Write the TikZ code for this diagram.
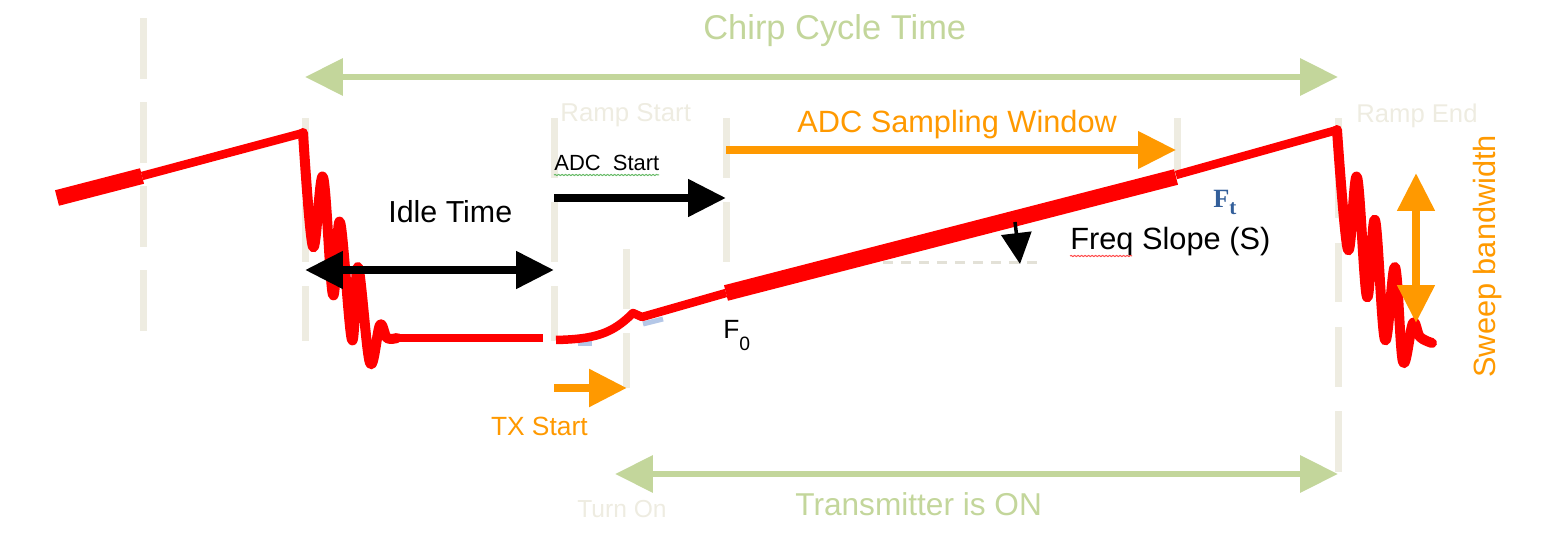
\documentclass[tikz,border=0pt]{standalone}
\usepackage{fontspec}
\setmainfont{Liberation Sans}
\newfontfamily\ftserif{Liberation Serif}
\usetikzlibrary{arrows.meta, decorations.pathmorphing}
\definecolor{chirpred}{HTML}{FF0000}
\definecolor{spangreen}{HTML}{C3D69B}
\definecolor{markertan}{HTML}{EEECE1}
\definecolor{adcorange}{HTML}{FF9900}
\definecolor{ftblue}{HTML}{335F9A}
\definecolor{glassblue}{HTML}{B4C7E7}

\begin{document}
\begin{tikzpicture}[x=0.02cm, y=-0.02cm,
    >={Triangle[length=0.76cm, width=0.72cm]},
    marker/.style={draw=markertan, line width=0.14cm},
    chirp/.style={draw=chirpred, line width=0.17cm, line join=round},
    settle/.style={chirp, line width=0.2cm, line cap=round},
    ramp/.style={draw=chirpred, line width=0.32cm},
    glass/.style={draw=glassblue, line width=0.1cm},
    span/.style={draw=spangreen, line width=0.13cm, <->},
    timing/.style={draw=black, line width=0.16cm},
    window/.style={draw=adcorange, line width=0.15cm},
    squiggle/.style={line width=0.02cm, decorate, decoration={snake, amplitude=0.012cm, segment length=0.07cm}},
    lbl/.style={inner sep=0pt, anchor=base west},
  ]
  \useasboundingbox (0,0) rectangle (1562,543);

  % --- marker lines ---
  \foreach \x/\a/\b in {143/18/79, 143/102/163, 143/186/247, 143/270/331,
                        305/118/178, 305/202/262, 305/286/341,
                        554/118/178, 554/202/262, 554/286/341,
                        626/249/309, 626/333/388,
                        726/118/178, 726/202/262,
                        1177/118/178,
                        1338/118/218, 1338/243/302, 1338/327/387, 1338/411/472}
    \draw[marker] (\x,\a) -- (\x,\b);
  \draw[markertan!90!gray, line width=0.06cm, dash pattern=on 0.2cm off 0.16cm] (883,263) -- (1038,263);

  % --- chirp frequency ---
  \draw[glass] (578,344) -- (592,344);
  \draw[glass] (643,324) -- (663,319);
  \draw[ramp] (57,198) -- (142,176);
  \draw[chirp] (142,176) -- (303,133);
  \draw[settle] plot[smooth, tension=0.6] coordinates {
      (303,133) (313,247) (323,177) (333,295) (340,222) (352,340)
      (358,267) (370,363) (380,325) (387,338) (397,338)};
  \draw[chirp] (395,338) -- (543,338);
  \draw[chirp] (556,340) .. controls (595,339) and (612,334) .. (633,313) -- (642,317) -- (726,293);
  \draw[ramp] (726,293) -- (1176,177);
  \draw[chirp] (1176,175) -- (1337,130);
  \draw[settle] plot[smooth, tension=0.6] coordinates {
      (1337,130) (1348,250) (1357,177) (1367,297) (1375,220) (1385,340)
      (1395,267) (1403,362) (1413,323) (1420,337) (1432,343)};

  % --- time spans ---
  \coordinate (cycL) at (305,77);   \coordinate (cycR) at (1338,77);
  \coordinate (onL) at (615,474);   \coordinate (onR) at (1338,474);
  \coordinate (idleL) at (305,270); \coordinate (idleR) at (554,270);
  \coordinate (adcA) at (554,198);  \coordinate (adcB) at (726,198);
  \coordinate (winA) at (726,150);  \coordinate (winB) at (1176,150);
  \coordinate (txA) at (554,388);   \coordinate (txB) at (627,388);
  \coordinate (bwTop) at (1416,173); \coordinate (bwBot) at (1416,323);
  \coordinate (slA) at (1015,222);  \coordinate (slB) at (1020,264);

  \draw[span] (cycL) -- (cycR);
  \draw[span] (onR) -- (onL);
  \draw[timing, <->] (idleL) -- (idleR);
  \draw[timing, ->] (adcA) -- (adcB);
  \draw[window, ->] (winA) -- (winB);
  \draw[window, line width=0.17cm, ->] (txA) -- (txB);
  \draw[window, line width=0.16cm, <->] (bwBot) -- (bwTop);
  \draw[black, line width=0.07cm, -{Triangle[length=0.62cm, width=0.6cm]}] (slA) -- (slB);

  % --- labels ---
  \node[lbl, text=spangreen, font=\fontsize{19.6}{23}\selectfont] (cycle) at (703,40) {Chirp Cycle Time};
  \node[lbl, text=markertan, font=\fontsize{14.7}{17}\selectfont] (rampstart) at (560,122) {Ramp Start};
  \node[lbl, text=markertan, font=\fontsize{14.6}{17}\selectfont] (rampend) at (1356,123) {Ramp End};
  \node[lbl, text=adcorange, font=\fontsize{17.5}{21}\selectfont] (adcwin) at (797,133) {ADC Sampling Window};
  \node[lbl, font=\fontsize{12.5}{15}\selectfont] (adcstart) at (554,171) {ADC~ Start};
  \node[lbl, font=\fontsize{17.3}{21}\selectfont] (idle) at (388,223) {Idle Time};
  \node[lbl, font=\fontsize{17.5}{21}\selectfont] (slope) at (1070,250) {Freq Slope (S)};
  \node[lbl, font=\fontsize{15}{18}\selectfont] (fzero) at (723,339) {F\raisebox{-6.5pt}{\fontsize{11}{12}\selectfont 0}};
  \node[lbl, text=ftblue, font=\fontsize{15}{17}\selectfont\ftserif\bfseries] (ftop) at (1213,208) {F\raisebox{-3.5pt}{\fontsize{12}{13}\selectfont t}};
  \node[inner sep=0pt, anchor=base east, text=adcorange, font=\fontsize{15}{18}\selectfont] (txstart) at (588,436) {TX Start};
  \node[lbl, text=markertan, font=\fontsize{14}{17}\selectfont] (turnon) at (577,518) {Turn On};
  \node[lbl, text=spangreen, font=\fontsize{18}{21}\selectfont] (txon) at (795,516) {Transmitter is ON};
  \node[lbl, rotate=90, text=adcorange, font=\fontsize{17.5}{21}\selectfont] (sweep) at (1495,378) {Sweep bandwidth};

  % spell-check marks
  \draw[squiggle, draw=green!55!black!60] (554,175) -- (659,175);
  \draw[squiggle, draw=red!70] (1070,256) -- (1132,256);
\end{tikzpicture}
\end{document}
